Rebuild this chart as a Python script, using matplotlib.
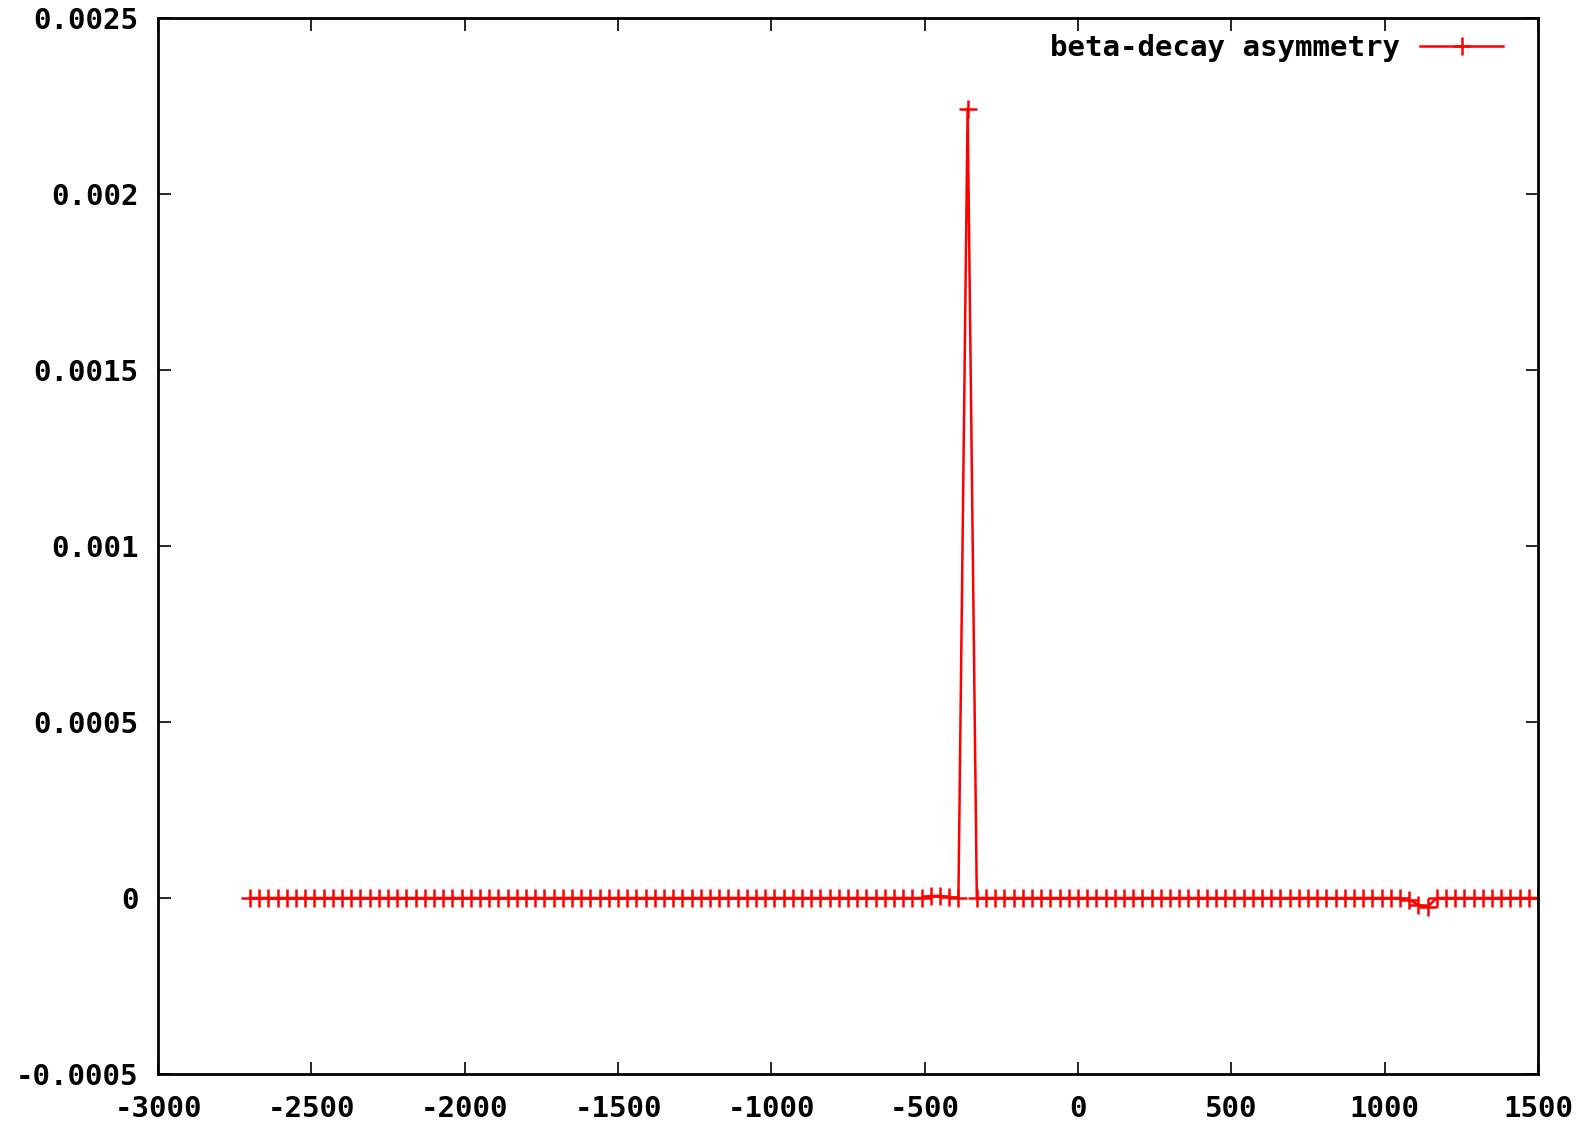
import numpy as np
import matplotlib
matplotlib.use("Agg")
import matplotlib.pyplot as plt

# energie (pas de 30) et asymetrie
energy = [
    -2700, -2670, -2640, -2610, -2580, -2550, -2520, -2490, -2460, -2430,
    -2400, -2370, -2340, -2310, -2280, -2250, -2220, -2190, -2160, -2130,
    -2100, -2070, -2040, -2010, -1980, -1950, -1920, -1890, -1860, -1830,
    -1800, -1770, -1740, -1710, -1680, -1650, -1620, -1590, -1560, -1530,
    -1500, -1470, -1440, -1410, -1380, -1350, -1320, -1290, -1260, -1230,
    -1200, -1170, -1140, -1110, -1080, -1050, -1020, -990, -960, -930,
    -900, -870, -840, -810, -780, -750, -720, -690, -660, -630,
    -600, -570, -540, -510, -480, -450, -420, -390, -360, -330,
    -300, -270, -240, -210, -180, -150, -120, -90, -60, -30,
    0, 30, 60, 90, 120, 150, 180, 210, 240, 270,
    300, 330, 360, 390, 420, 450, 480, 510, 540, 570,
    600, 630, 660, 690, 720, 750, 780, 810, 840, 870,
    900, 930, 960, 990, 1020, 1050, 1080, 1110, 1140, 1170,
    1200, 1230, 1260, 1290, 1320, 1350, 1380, 1410, 1440, 1470,
    1500,
]

asym = [
    0, 0, 0, 0, 0, 0, 0, 0, 0, 0,
    0, 0, 0, 0, 0, 0, 0, 0, 0, 0,
    0, 0, 0, 0, 0, 0, 0, 0, 0, 0,
    0, 0, 0, 0, 0, 0, 0, 0, 0, 0,
    0, 0, 0, 0, 0, 0, 0, 0, 0, 0,
    0, 0, 0, 0, 0, 0, 0, 0, 0, 0,
    0, 0, 0, 0, 0, 0, 0, 0, 0, 0,
    0, 0, 0, 0, 0.000006, 0.000006, 0.000002, 0, 0.002243, 0,
    0, 0, 0, 0, 0, 0, 0, 0, 0, 0,
    0, 0, 0, 0, 0, 0, 0, 0, 0, 0,
    0, 0, 0, 0, 0, 0, 0, 0, 0, 0,
    0, 0, 0, 0, 0, 0, 0, 0, 0, 0,
    0, 0, 0, 0, 0, 0, -0.000005, -0.00002, -0.000025, 0,
    0, 0, 0, 0, 0, 0, 0, 0, 0, 0,
    0,
]

xticks = [-3000, -2500, -2000, -1500, -1000, -500, 0, 500, 1000, 1500]
yticks = [-0.0005, 0, 0.0005, 0.001, 0.0015, 0.002, 0.0025]
ylabels = ["-0.0005", "0", "0.0005", "0.001", "0.0015", "0.002", "0.0025"]

plt.rcParams['font.family'] = ['DejaVu Sans Mono']
plt.rcParams['font.weight'] = 'bold'

fig = plt.figure(figsize=(15.9, 11.28), dpi=100)
ax = fig.add_axes([0.0994, 0.0479, 0.8679, 0.9361])

ax.plot(energy, asym, color='red', lw=1.8, marker='+', ms=13, mew=1.8,
        label='beta-decay asymmetry', clip_on=True)

ax.set_xlim(-3000, 1500)
ax.set_ylim(-0.0005, 0.0025)
ax.set_xticks(xticks)
ax.set_xticklabels([str(t) for t in xticks])
ax.set_yticks(yticks)
ax.set_yticklabels(ylabels)

ax.tick_params(direction='in', length=9, width=1.2, top=True, right=True,
               labelsize=21, pad=14, colors='black')
ax.tick_params(axis='x', pad=15)
for s in ax.spines.values():
    s.set_linewidth(2)
    s.set_color('black')

ax.legend(loc='upper right', bbox_to_anchor=(0.994, 1.01), frameon=False,
          markerfirst=False, fontsize=21, handlelength=2.85, handletextpad=0.7)

fig.savefig('out.png', dpi=100)
